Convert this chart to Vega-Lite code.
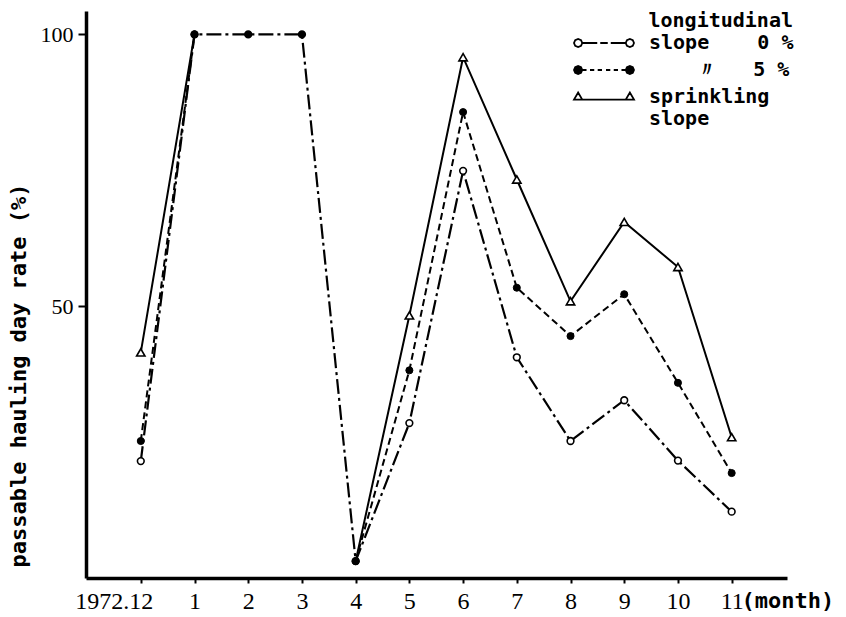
{
  "$schema": "https://vega.github.io/schema/vega-lite/v6.json",
  "width": 701,
  "height": 567,
  "autosize": {"type": "none"},
  "padding": {"left": 86, "top": 11, "right": 59, "bottom": 39},
  "background": "white",
  "config": {
    "view": {"stroke": null},
    "axis": {"grid": false, "domainColor": "black", "tickColor": "black", "labelColor": "black", "titleColor": "black"}
  },
  "data": {
    "values": [
      {"series": "0%", "m": 0, "v": 21.5},
      {"series": "0%", "m": 1, "v": 100},
      {"series": "0%", "m": 2, "v": 100},
      {"series": "0%", "m": 3, "v": 100},
      {"series": "0%", "m": 4, "v": 3.1},
      {"series": "0%", "m": 5, "v": 28.5},
      {"series": "0%", "m": 6, "v": 74.9},
      {"series": "0%", "m": 7, "v": 40.6},
      {"series": "0%", "m": 8, "v": 25.2},
      {"series": "0%", "m": 9, "v": 32.7},
      {"series": "0%", "m": 10, "v": 21.6},
      {"series": "0%", "m": 11, "v": 12.2},
      {"series": "5%", "m": 0, "v": 25.2},
      {"series": "5%", "m": 1, "v": 100},
      {"series": "5%", "m": 2, "v": null},
      {"series": "5%", "m": 3, "v": null},
      {"series": "5%", "m": 4, "v": 3.1},
      {"series": "5%", "m": 5, "v": 38.2},
      {"series": "5%", "m": 6, "v": 85.7},
      {"series": "5%", "m": 7, "v": 53.4},
      {"series": "5%", "m": 8, "v": 44.5},
      {"series": "5%", "m": 9, "v": 52.2},
      {"series": "5%", "m": 10, "v": 35.9},
      {"series": "5%", "m": 11, "v": 19.3},
      {"series": "sprinkling", "m": 0, "v": 41.5},
      {"series": "sprinkling", "m": 1, "v": 100},
      {"series": "sprinkling", "m": 2, "v": null},
      {"series": "sprinkling", "m": 3, "v": null},
      {"series": "sprinkling", "m": 4, "v": 3.1},
      {"series": "sprinkling", "m": 5, "v": 48.3},
      {"series": "sprinkling", "m": 6, "v": 95.8},
      {"series": "sprinkling", "m": 7, "v": 73.3},
      {"series": "sprinkling", "m": 8, "v": 50.9},
      {"series": "sprinkling", "m": 9, "v": 65.5},
      {"series": "sprinkling", "m": 10, "v": 57.2},
      {"series": "sprinkling", "m": 11, "v": 25.9}
    ]
  },
  "encoding": {
    "x": {
      "field": "m",
      "type": "quantitative",
      "scale": {"domain": [-1.02, 12.03], "nice": false, "zero": false},
      "axis": {
        "values": [0, 1, 2, 3, 4, 5, 6, 7, 8, 9, 10, 11],
        "labelExpr": "datum.value == 0 ? '1972.12' : datum.value",
        "labelAlign": {"condition": {"test": "datum.value == 0", "value": "right"}, "value": "center"},
        "labelOffset": {"condition": {"test": "datum.value == 0", "value": 12}, "value": 0},
        "labelFont": "Liberation Serif",
        "labelFontSize": 24,
        "labelPadding": 6,
        "labelFlush": false,
        "labelOverlap": false,
        "tickSize": 5,
        "tickWidth": 2,
        "domainWidth": 3.5,
        "title": "(month)",
        "titleFont": "DejaVu Sans Mono",
        "titleFontWeight": "bold",
        "titleFontSize": 22,
        "titleX": 655,
        "titleY": 29,
        "titleAlign": "left",
        "titleAnchor": "start",
        "titleBaseline": "alphabetic"
      }
    },
    "y": {
      "field": "v",
      "type": "quantitative",
      "scale": {"domain": [0, 104.3], "nice": false, "zero": false},
      "axis": {
        "values": [50, 100],
        "labelFont": "Liberation Serif",
        "labelFontSize": 22,
        "labelPadding": 5,
        "tickSize": 8,
        "tickWidth": 2,
        "domainWidth": 3.5,
        "title": "passable hauling day rate (%)",
        "titleFont": "DejaVu Sans Mono",
        "titleFontWeight": "bold",
        "titleFontSize": 22,
        "titleX": -68,
        "titleY": 364,
        "titleAngle": -90,
        "titleAlign": "center",
        "titleBaseline": "middle"
      }
    }
  },
  "layer": [
    {
      "transform": [{"filter": "datum.series == 'sprinkling'"}],
      "mark": {"type": "line", "color": "black", "strokeWidth": 2}
    },
    {
      "transform": [{"filter": "datum.series == '5%'"}],
      "mark": {"type": "line", "color": "black", "strokeWidth": 2, "strokeDash": [7, 4]}
    },
    {
      "transform": [{"filter": "datum.series == '0%'"}],
      "mark": {"type": "line", "color": "black", "strokeWidth": 2.2, "strokeDash": [15, 4, 3, 4]}
    },
    {
      "transform": [{"filter": "datum.series == '0%'"}],
      "mark": {"type": "point", "shape": "circle", "filled": true, "stroke": "black", "strokeWidth": 1.6, "size": 45, "opacity": 1},
      "encoding": {
        "fill": {"condition": {"test": "datum.m >= 1 && datum.m <= 4", "value": "black"}, "value": "white"}
      }
    },
    {
      "transform": [{"filter": "datum.series == 'sprinkling' && datum.m != 1 && datum.m != 4"}],
      "mark": {"type": "point", "shape": "triangle-up", "filled": true, "fill": "white", "stroke": "black", "strokeWidth": 1.6, "size": 70, "opacity": 1}
    },
    {
      "transform": [{"filter": "datum.series == '5%'"}],
      "mark": {"type": "point", "shape": "circle", "filled": true, "fill": "black", "stroke": "black", "strokeWidth": 1, "size": 50, "opacity": 1}
    },
    {
      "transform": [{"filter": "datum.m > 100"}],
      "mark": {"type": "point", "filled": true, "stroke": "black", "strokeWidth": 1.8, "opacity": 1},
      "encoding": {
        "shape": {
          "field": "series",
          "type": "nominal",
          "scale": {
            "domain": ["0%", "5%", "sprinkling"],
            "range": [
              "M-2.9,0L-3.061,0.389L-3.45,0.55L-3.839,0.389L-4,0L-3.839,-0.389L-3.45,-0.55L-3.061,-0.389ZM4,0L3.839,0.389L3.45,0.55L3.061,0.389L2.9,0L3.061,-0.389L3.45,-0.55L3.839,-0.389ZM-2.9,0L-0.9,0M-0.5,0L0.5,0M0.9,0L2.9,0",
              "M-2.9,0L-3.061,0.389L-3.45,0.55L-3.839,0.389L-4,0L-3.839,-0.389L-3.45,-0.55L-3.061,-0.389ZM4,0L3.839,0.389L3.45,0.55L3.061,0.389L2.9,0L3.061,-0.389L3.45,-0.55L3.839,-0.389ZM-2.9,0L-2.33,0M-1.87,0L-1.3,0M-0.84,0L-0.27,0M0.27,0L0.84,0M1.3,0L1.87,0M2.33,0L2.9,0",
              "M-4,0.35L-2.9,0.35L-3.45,-0.6ZM2.9,0.35L4,0.35L3.45,-0.6ZM-2.9,0.35L2.9,0.35"
            ]
          },
          "legend": {
            "orient": "none",
            "legendX": 508,
            "legendY": 0,
            "title": "longitudinal",
            "titleAnchor": "end",
            "titleFont": "DejaVu Sans Mono",
            "titleFontWeight": "bold",
            "titleFontSize": 20,
            "titleColor": "black",
            "titlePadding": 2,
            "labelFont": "DejaVu Sans Mono",
            "labelFontWeight": "bold",
            "labelFontSize": 20,
            "labelColor": "black",
            "labelLimit": 0,
            "labelOffset": 35,
            "labelExpr": "datum.label == '0%' ? 'slope\u00a0\u00a0\u00a0\u00a00\u00a0%' : datum.label == '5%' ? '\u200b\u00a0\u00a0\u00a0\u00a0〃\u00a0\u00a0\u00a05\u00a0%' : ['sprinkling', 'slope']",
            "symbolSize": 225,
            "symbolStrokeColor": "black",
            "symbolStrokeWidth": 1.8,
            "symbolOpacity": 1,
            "rowPadding": 7,
            "padding": 0,
            "encoding": {
              "symbols": {
                "stroke": {"value": "black"},
                "strokeWidth": {"value": 1.8},
                "opacity": {"value": 1}
              }
            }
          }
        },
        "fill": {
          "field": "series",
          "type": "nominal",
          "scale": {"domain": ["0%", "5%", "sprinkling"], "range": ["white", "black", "white"]}
        }
      }
    }
  ]
}
